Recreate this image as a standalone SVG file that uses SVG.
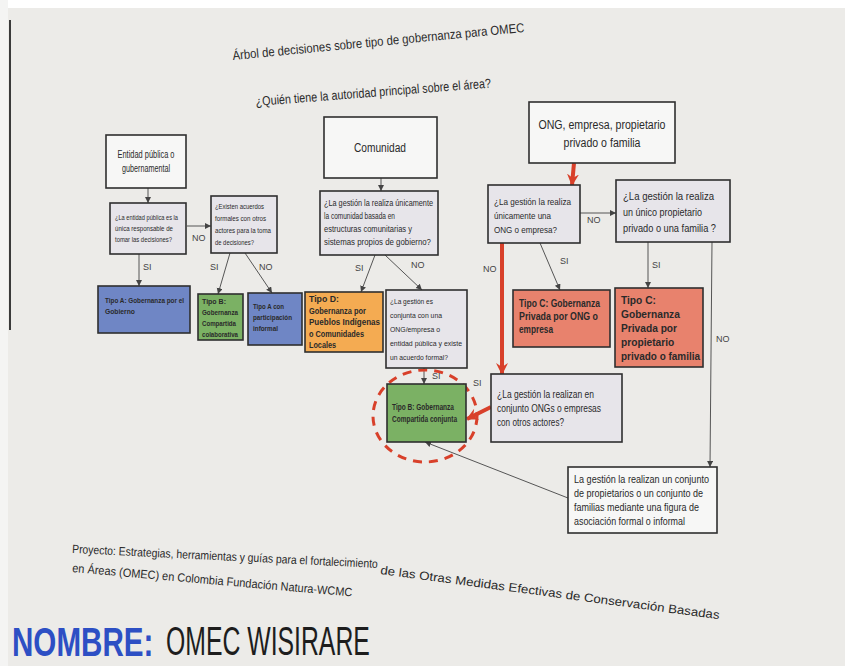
<svg xmlns="http://www.w3.org/2000/svg" width="845" height="666" viewBox="0 0 845 666">
<defs>
<style>
.box{stroke:#2f2f2f;stroke-width:1.6}
.w{fill:#f7f7f6}
.g{fill:#e7e5ea}
.blue{fill:#6f86c5}
.green{fill:#7bb164}
.orange{fill:#f4ab52}
.sal{fill:#e8826d}
text{font-family:"Liberation Sans","Noto Sans",Arial,sans-serif;fill:#2a2a2a}
.b{font-weight:bold}
.c{text-anchor:middle}
.con{stroke:#555;stroke-width:1;fill:none}
.red{stroke:#d8402a;stroke-width:4;fill:none}
.lbl{font-size:9px;fill:#444}
</style>
<marker id="ah" markerWidth="8" markerHeight="8" refX="6" refY="3" orient="auto" markerUnits="userSpaceOnUse">
<path d="M0,0 L6,3 L0,6 z" fill="#444"/>
</marker>
<marker id="rh" markerWidth="16" markerHeight="16" refX="11" refY="6" orient="auto" markerUnits="userSpaceOnUse">
<path d="M0,0 L12,6 L0,12 L4,6 z" fill="#d8402a"/>
</marker>
</defs>
<rect x="0" y="0" width="845" height="666" fill="#ecebe8"/>
<rect x="0" y="0" width="845" height="8" fill="#ffffff"/>
<rect x="0" y="0" width="8" height="666" fill="#f4f4f3"/>
<line x1="10" y1="20" x2="10" y2="330" stroke="#3a3a3a" stroke-width="2"/>

<g id="title">
<text x="233" y="60" font-size="13" textLength="293" lengthAdjust="spacingAndGlyphs" transform="rotate(-5.5 233 60)">Árbol de decisiones sobre tipo de gobernanza para OMEC</text>
<text x="256" y="106" font-size="13" textLength="236" lengthAdjust="spacingAndGlyphs" transform="rotate(-4.5 256 106)">¿Quién tiene la autoridad principal sobre el área?</text>
</g>

<g id="connectors">
<line class="con" x1="148" y1="188" x2="148" y2="203" marker-end="url(#ah)"/>
<line class="con" x1="187" y1="226" x2="211" y2="226" marker-end="url(#ah)"/>
<line class="con" x1="139" y1="254" x2="139" y2="286" marker-end="url(#ah)"/>
<line class="con" x1="230" y1="253" x2="218" y2="294" marker-end="url(#ah)"/>
<line class="con" x1="245" y1="253" x2="272" y2="293" marker-end="url(#ah)"/>
<line class="con" x1="381" y1="178" x2="381" y2="191" marker-end="url(#ah)"/>
<line class="con" x1="375" y1="255" x2="361" y2="292" marker-end="url(#ah)"/>
<line class="con" x1="385" y1="255" x2="422" y2="290" marker-end="url(#ah)"/>
<line class="con" x1="424" y1="368" x2="424" y2="384" marker-end="url(#ah)"/>
<line class="con" x1="580" y1="213" x2="616" y2="213" marker-end="url(#ah)"/>
<line class="con" x1="540" y1="243" x2="560" y2="290" marker-end="url(#ah)"/>
<line class="con" x1="648" y1="242" x2="648" y2="288" marker-end="url(#ah)"/>
<line class="con" x1="712" y1="242" x2="710" y2="467" marker-end="url(#ah)"/>
<line class="con" x1="568" y1="498" x2="425" y2="442" marker-end="url(#ah)"/>
<line class="red" x1="574" y1="163" x2="572" y2="185" marker-end="url(#rh)"/>
<line class="red" x1="502" y1="243" x2="502" y2="374" marker-end="url(#rh)"/>
<line class="red" x1="491" y1="407" x2="467" y2="419" marker-end="url(#rh)"/>
<ellipse cx="425" cy="416" rx="52" ry="46" fill="none" stroke="#d8402a" stroke-width="3" stroke-dasharray="9 7"/>
<text class="lbl" x="192" y="241">NO</text>
<text class="lbl" x="143" y="270">SI</text>
<text class="lbl" x="210" y="270">SI</text>
<text class="lbl" x="259" y="270">NO</text>
<text class="lbl" x="355" y="271">SI</text>
<text class="lbl" x="411" y="268">NO</text>
<text class="lbl" x="432" y="379">SI</text>
<text class="lbl" x="473" y="386">SI</text>
<text class="lbl" x="587" y="223">NO</text>
<text class="lbl" x="483" y="272">NO</text>
<text class="lbl" x="560" y="264">SI</text>
<text class="lbl" x="652" y="268">SI</text>
<text class="lbl" x="716" y="342">NO</text>
<text class="lbl" x="512" y="440">SI</text>
</g>

<g id="n-entidad">
<rect class="box w" x="106" y="135" width="80" height="53"/>
<text class="c" x="146" y="158" font-size="10" textLength="57" lengthAdjust="spacingAndGlyphs">Entidad pública o</text>
<text class="c" x="146" y="172" font-size="10" textLength="48" lengthAdjust="spacingAndGlyphs">gubernamental</text>
</g>
<g id="n-q-entidad">
<rect class="box g" x="110" y="203" width="76" height="51"/>
<text x="115" y="220" font-size="7.5" textLength="63" lengthAdjust="spacingAndGlyphs">¿La entidad pública es la</text>
<text x="115" y="231" font-size="7.5" textLength="58" lengthAdjust="spacingAndGlyphs">única responsable de</text>
<text x="115" y="242" font-size="7.5" textLength="57" lengthAdjust="spacingAndGlyphs">tomar las decisiones?</text>
</g>
<g id="n-q-acuerdos">
<rect class="box g" x="211" y="196" width="66" height="57"/>
<text x="215" y="209" font-size="7.5" textLength="49" lengthAdjust="spacingAndGlyphs">¿Existen acuerdos</text>
<text x="215" y="221" font-size="7.5" textLength="51" lengthAdjust="spacingAndGlyphs">formales con otros</text>
<text x="215" y="233" font-size="7.5" textLength="56" lengthAdjust="spacingAndGlyphs">actores para la toma</text>
<text x="215" y="245" font-size="7.5" textLength="39" lengthAdjust="spacingAndGlyphs">de decisiones?</text>
</g>
<g id="n-tipoA">
<rect class="box blue" x="98" y="286" width="92" height="47"/>
<text class="b" x="105" y="303" font-size="7.8" textLength="79" lengthAdjust="spacingAndGlyphs">Tipo A: Gobernanza por el</text>
<text class="b" x="105" y="314" font-size="7.8" textLength="30" lengthAdjust="spacingAndGlyphs">Gobierno</text>
</g>
<g id="n-tipoB-colab">
<rect class="box green" x="198" y="294" width="45" height="46"/>
<text class="b" x="202" y="304" font-size="7.5" textLength="24" lengthAdjust="spacingAndGlyphs">Tipo B:</text>
<text class="b" x="202" y="315" font-size="7.5" textLength="36" lengthAdjust="spacingAndGlyphs">Gobernanza</text>
<text class="b" x="202" y="326" font-size="7.5" textLength="34" lengthAdjust="spacingAndGlyphs">Compartida</text>
<text class="b" x="202" y="337" font-size="7.5" textLength="36" lengthAdjust="spacingAndGlyphs">colaborativa</text>
</g>
<g id="n-tipoA-inf">
<rect class="box blue" x="248" y="293" width="54" height="52"/>
<text class="b" x="253" y="309" font-size="8" textLength="31" lengthAdjust="spacingAndGlyphs">Tipo A con</text>
<text class="b" x="253" y="320" font-size="8" textLength="39" lengthAdjust="spacingAndGlyphs">participación</text>
<text class="b" x="253" y="331" font-size="8" textLength="25" lengthAdjust="spacingAndGlyphs">informal</text>
</g>
<g id="n-comunidad">
<rect class="box w" x="324" y="117" width="113" height="61"/>
<text class="c" x="380" y="152" font-size="12.5" textLength="52" lengthAdjust="spacingAndGlyphs">Comunidad</text>
</g>
<g id="n-q-comunidad">
<rect class="box g" x="320" y="191" width="118" height="64"/>
<text x="324" y="206" font-size="8.6" textLength="109" lengthAdjust="spacingAndGlyphs">¿La gestión la realiza únicamente</text>
<text x="324" y="219" font-size="8.6" textLength="71" lengthAdjust="spacingAndGlyphs">la comunidad basada en</text>
<text x="324" y="232" font-size="8.6" textLength="88" lengthAdjust="spacingAndGlyphs">estructuras comunitarias y</text>
<text x="324" y="245" font-size="8.6" textLength="107" lengthAdjust="spacingAndGlyphs">sistemas propios de gobierno?</text>
</g>
<g id="n-tipoD">
<rect class="box orange" x="305" y="292" width="78" height="60"/>
<text class="b" x="309" y="302" font-size="8.8" textLength="30" lengthAdjust="spacingAndGlyphs">Tipo D:</text>
<text class="b" x="309" y="313.5" font-size="8.8" textLength="57" lengthAdjust="spacingAndGlyphs">Gobernanza por</text>
<text class="b" x="309" y="325" font-size="8.8" textLength="71" lengthAdjust="spacingAndGlyphs">Pueblos Indígenas</text>
<text class="b" x="309" y="336.5" font-size="8.8" textLength="55" lengthAdjust="spacingAndGlyphs">o Comunidades</text>
<text class="b" x="309" y="348" font-size="8.8" textLength="27" lengthAdjust="spacingAndGlyphs">Locales</text>
</g>
<g id="n-q-conjunta">
<rect class="box g" x="386" y="290" width="81" height="78"/>
<text x="390" y="304" font-size="7.8" textLength="43" lengthAdjust="spacingAndGlyphs">¿La gestión es</text>
<text x="390" y="318" font-size="7.8" textLength="52" lengthAdjust="spacingAndGlyphs">conjunta con una</text>
<text x="390" y="332" font-size="7.8" textLength="50" lengthAdjust="spacingAndGlyphs">ONG/empresa o</text>
<text x="390" y="346" font-size="7.8" textLength="72" lengthAdjust="spacingAndGlyphs">entidad pública y existe</text>
<text x="390" y="360" font-size="7.8" textLength="58" lengthAdjust="spacingAndGlyphs">un acuerdo formal?</text>
</g>
<g id="n-tipoB-conj">
<rect class="box green" x="387" y="384" width="79" height="58"/>
<text class="b" x="392" y="410" font-size="8.3" textLength="62" lengthAdjust="spacingAndGlyphs">Tipo B: Gobernanza</text>
<text class="b" x="392" y="422" font-size="8.3" textLength="65" lengthAdjust="spacingAndGlyphs">Compartida conjunta</text>
</g>
<g id="n-ong">
<rect class="box w" x="529" y="102" width="146" height="61"/>
<text class="c" x="602" y="129" font-size="12.5" textLength="127" lengthAdjust="spacingAndGlyphs">ONG, empresa, propietario</text>
<text class="c" x="602" y="147" font-size="12.5" textLength="77" lengthAdjust="spacingAndGlyphs">privado o familia</text>
</g>
<g id="n-q-ong">
<rect class="box g" x="488" y="185" width="92" height="58"/>
<text x="494" y="205" font-size="9.8" textLength="77" lengthAdjust="spacingAndGlyphs">¿La gestión la realiza</text>
<text x="494" y="219" font-size="9.8" textLength="57" lengthAdjust="spacingAndGlyphs">únicamente una</text>
<text x="494" y="233" font-size="9.8" textLength="63" lengthAdjust="spacingAndGlyphs">ONG o empresa?</text>
</g>
<g id="n-q-privado">
<rect class="box g" x="616" y="180" width="114" height="62"/>
<text x="623" y="200" font-size="11" textLength="91" lengthAdjust="spacingAndGlyphs">¿La gestión la realiza</text>
<text x="623" y="216" font-size="11" textLength="79" lengthAdjust="spacingAndGlyphs">un único propietario</text>
<text x="623" y="232" font-size="11" textLength="93" lengthAdjust="spacingAndGlyphs">privado o una familia ?</text>
</g>
<g id="n-tipoC-ong">
<rect class="box sal" x="513" y="290" width="97" height="57"/>
<text class="b" x="519" y="307" font-size="10.3" textLength="81" lengthAdjust="spacingAndGlyphs">Tipo C: Gobernanza</text>
<text class="b" x="519" y="320" font-size="10.3" textLength="79" lengthAdjust="spacingAndGlyphs">Privada por ONG o</text>
<text class="b" x="519" y="333" font-size="10.3" textLength="34" lengthAdjust="spacingAndGlyphs">empresa</text>
</g>
<g id="n-tipoC-priv">
<rect class="box sal" x="615" y="288" width="88" height="79"/>
<text class="b" x="621" y="304" font-size="10.2">Tipo C:</text>
<text class="b" x="621" y="318" font-size="10.2">Gobernanza</text>
<text class="b" x="621" y="332" font-size="10.2">Privada por</text>
<text class="b" x="621" y="346" font-size="10.2">propietario</text>
<text class="b" x="621" y="360" font-size="10.2" textLength="79" lengthAdjust="spacingAndGlyphs">privado o familia</text>
</g>
<g id="n-q-en-conjunto">
<rect class="box g" x="491" y="374" width="131" height="68"/>
<text x="497" y="398" font-size="10.5" textLength="97" lengthAdjust="spacingAndGlyphs">¿La gestión la realizan en</text>
<text x="497" y="412" font-size="10.5" textLength="104" lengthAdjust="spacingAndGlyphs">conjunto ONGs o empresas</text>
<text x="497" y="426" font-size="10.5" textLength="67" lengthAdjust="spacingAndGlyphs">con otros actores?</text>
</g>
<g id="n-conjunto-prop">
<rect class="box w" x="568" y="467" width="149" height="66"/>
<text x="574" y="483" font-size="10.5" textLength="135" lengthAdjust="spacingAndGlyphs">La gestión la realizan un conjunto</text>
<text x="574" y="497" font-size="10.5" textLength="129" lengthAdjust="spacingAndGlyphs">de propietarios o un conjunto de</text>
<text x="574" y="511" font-size="10.5" textLength="125" lengthAdjust="spacingAndGlyphs">familias mediante una figura de</text>
<text x="574" y="525" font-size="10.5" textLength="111" lengthAdjust="spacingAndGlyphs">asociación formal o informal</text>
</g>

<g id="footer">
<text x="72" y="553" font-size="12" textLength="306" lengthAdjust="spacingAndGlyphs" transform="rotate(2.8 72 553)">Proyecto: Estrategias, herramientas y guías para el fortalecimiento</text>
<text x="380" y="574" font-size="12" textLength="342" lengthAdjust="spacingAndGlyphs" transform="rotate(7.6 380 574)">de las Otras Medidas Efectivas de Conservación Basadas</text>
<text x="72" y="572" font-size="12" textLength="281" lengthAdjust="spacingAndGlyphs" transform="rotate(5 72 572)">en Áreas (OMEC) en Colombia Fundación Natura-WCMC</text>
<text x="0" y="0" font-size="40" font-weight="bold" style="fill:#2d4fc4" transform="translate(12 656) scale(0.74 1)">NOMBRE:</text>
<text x="0" y="0" font-size="40" style="fill:#1d1d1d" transform="translate(166 655) scale(0.62 1)">OMEC  WISIRARE</text>
</g>
</svg>
